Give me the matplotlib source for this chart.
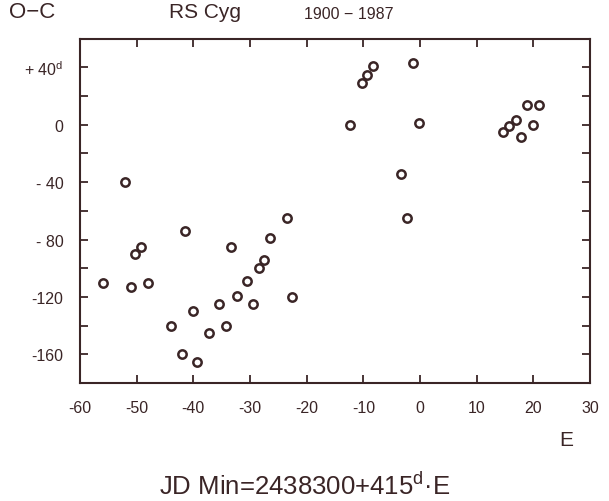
import matplotlib
matplotlib.use("Agg")
import matplotlib.pyplot as plt

plt.rcParams["font.family"] = ["Liberation Sans", "DejaVu Sans"]
plt.rcParams["mathtext.fontset"] = "custom"
plt.rcParams["mathtext.rm"] = "Liberation Sans"

# O-C residuals of RS Cyg, epoch E vs O-C in days
epoch = [-56, -52, -51, -50.3, -49.2, -48,
         -44, -42, -41.4, -40.1, -39.3, -37.2, -35.5, -34.2, -33.4, -32.3,
         -30.5, -29.5, -28.4, -27.5, -26.4, -23.5, -22.6,
         -12.4, -10.3, -9.4, -8.3, -3.3, -2.3, -1.3, -0.2,
         14.7, 15.7, 16.9, 17.9, 18.8, 19.9, 21.0]
o_c = [-110, -40, -113, -90, -85, -110,
       -140, -160, -74, -130, -165, -145, -125, -140, -85, -119,
       -109, -125, -100, -94, -79, -65, -120,
       0, 29, 35, 41, -34, -65, 43, 1,
       -5, -1, 3.5, -8.5, 14, 0, 14]

xticks = [-60, -50, -40, -30, -20, -10, 0, 10, 20, 30]
xlabels = ["-60", "-50", "-40", "-30", "-20", "-10", "0", "10", "20", "30"]
yticks = [-180, -160, -140, -120, -100, -80, -60, -40, -20, 0, 20, 40, 60]
ylabels = ["", "-160", "", "-120", "", "- 80", "", "- 40", "", "0", "",
           "+ 40$^{\\mathrm{d}}$", ""]

ink = "#3a2526"

fig = plt.figure(figsize=(6.09, 5.02), dpi=100)
ax = fig.add_axes([0.1314, 0.235, 0.8374, 0.686])

ax.plot(epoch, o_c, linestyle="none", marker="o", markersize=6,
        markerfacecolor="none", markeredgecolor=ink, markeredgewidth=1.8)

ax.set_xlim(-60, 30)
ax.set_ylim(-180, 60)
ax.set_xticks(xticks)
ax.set_xticklabels(xlabels)
ax.set_yticks(yticks)
ax.set_yticklabels(ylabels)
ax.tick_params(direction="in", length=6, width=1.3, color=ink,
               top=True, right=True, labelsize=11.5, labelcolor=ink)
ax.tick_params(axis="x", pad=12)
ax.tick_params(axis="y", pad=12)
for s in ax.spines.values():
    s.set_color(ink)
    s.set_linewidth(1.5)

fig.text(0.052, 0.975, "O\u2212C", fontsize=16, color=ink, ha="center", va="center")
fig.text(0.337, 0.975, "RS Cyg", fontsize=15, color=ink, ha="center", va="center")
fig.text(0.572, 0.972, "1900 \u2212 1987", fontsize=11.5, color=ink, ha="center", va="center")
fig.text(0.929, 0.123, "E", fontsize=15, color=ink, ha="center", va="center")
fig.text(0.5, 0.032, "JD Min=2438300+415$^{\\mathrm{d}}$\u00b7E", fontsize=18.5,
         color=ink, ha="center", va="center")

fig.savefig("out.png", dpi=100)
